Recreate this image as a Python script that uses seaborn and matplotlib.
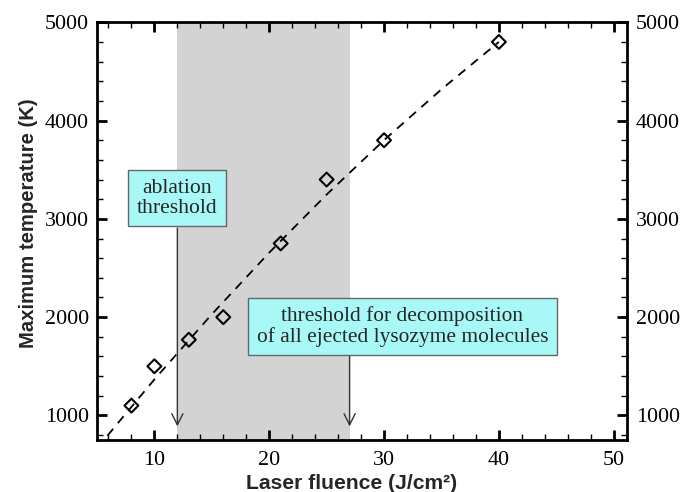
import matplotlib
matplotlib.use("Agg")
import matplotlib.pyplot as plt
import seaborn as sns
import pandas as pd
from matplotlib.ticker import MultipleLocator

# Data
fluence = [8, 10, 13, 16, 21, 25, 30, 40]
max_temp = [1100, 1500, 1770, 2000, 2750, 3400, 3800, 4800]

# Dashed trend curve
fit_x = [5, 10, 15, 20, 25, 30, 35, 40]
fit_y = [667, 1366, 2029, 2656, 3247, 3801, 4318, 4800]

# Shaded region and thresholds
band = [12, 27]
ablation_threshold = 12
decomposition_threshold = 27

sns.set_theme(style="ticks")
plt.rcParams["font.family"] = ["Liberation Serif", "DejaVu Serif"]

fig = plt.figure(figsize=(6.81, 4.92), dpi=100)
ax = fig.add_axes([0.1424, 0.1057, 0.7790, 0.8490])

ax.axvspan(band[0], band[1], color="#d3d3d3", lw=0, zorder=0)

df_pts = pd.DataFrame({"x": fluence, "y": max_temp})
df_fit = pd.DataFrame({"x": fit_x, "y": fit_y})

sns.lineplot(data=df_fit, x="x", y="y", ax=ax, color="black", lw=1.3,
             linestyle=(0, (5, 4)), zorder=2)
sns.scatterplot(data=df_pts, x="x", y="y", ax=ax, marker="D", s=50,
                facecolor="none", edgecolor="black", linewidth=1.5, zorder=3)

ax.set_xlim(5, 51.2)
ax.set_ylim(750, 5000)

# Annotations
box = dict(boxstyle="square,pad=0.4", fc="#a8f8f8", ec="#666666", lw=1)
ax.annotate("", xy=(ablation_threshold, 860), xytext=(ablation_threshold, 2935),
            arrowprops=dict(arrowstyle="->", color="#333333", lw=1,
                            mutation_scale=20), zorder=4)
ax.text(ablation_threshold, 3210, "ablation\nthreshold", ha="center", va="center",
        fontsize=15.6, linespacing=1.05, bbox=box, zorder=5)

ax.annotate("", xy=(decomposition_threshold, 860),
            xytext=(decomposition_threshold, 1640),
            arrowprops=dict(arrowstyle="->", color="#333333", lw=1,
                            mutation_scale=20), zorder=4)
ax.text(31.6, 1906, "threshold for decomposition\nof all ejected lysozyme molecules",
        ha="center", va="center", fontsize=15.4, linespacing=1.05, bbox=box, zorder=5)

# Axes styling
ax.xaxis.set_major_locator(MultipleLocator(10))
ax.xaxis.set_minor_locator(MultipleLocator(2))
ax.yaxis.set_major_locator(MultipleLocator(1000))
ax.yaxis.set_minor_locator(MultipleLocator(200))
ax.tick_params(which="both", direction="in", top=True, right=True,
               labelright=True, labelsize=15.8, colors="black")
ax.tick_params(which="major", length=7, width=2)
ax.tick_params(which="minor", length=4, width=1)
ax.tick_params(axis="y", pad=6)
ax.tick_params(axis="x", pad=8)
for s in ax.spines.values():
    s.set_linewidth(2)
    s.set_color("black")

ax.set_xlabel("Laser fluence (J/cm²)", fontsize=15.2, fontweight="bold",
              family=["Liberation Sans", "DejaVu Sans"], labelpad=3, x=0.48)
ax.set_ylabel("Maximum temperature (K)", fontsize=14.6, fontweight="bold",
              family=["Liberation Sans", "DejaVu Sans"], labelpad=5, y=0.518)

fig.savefig("out.png", dpi=100, facecolor="white")
